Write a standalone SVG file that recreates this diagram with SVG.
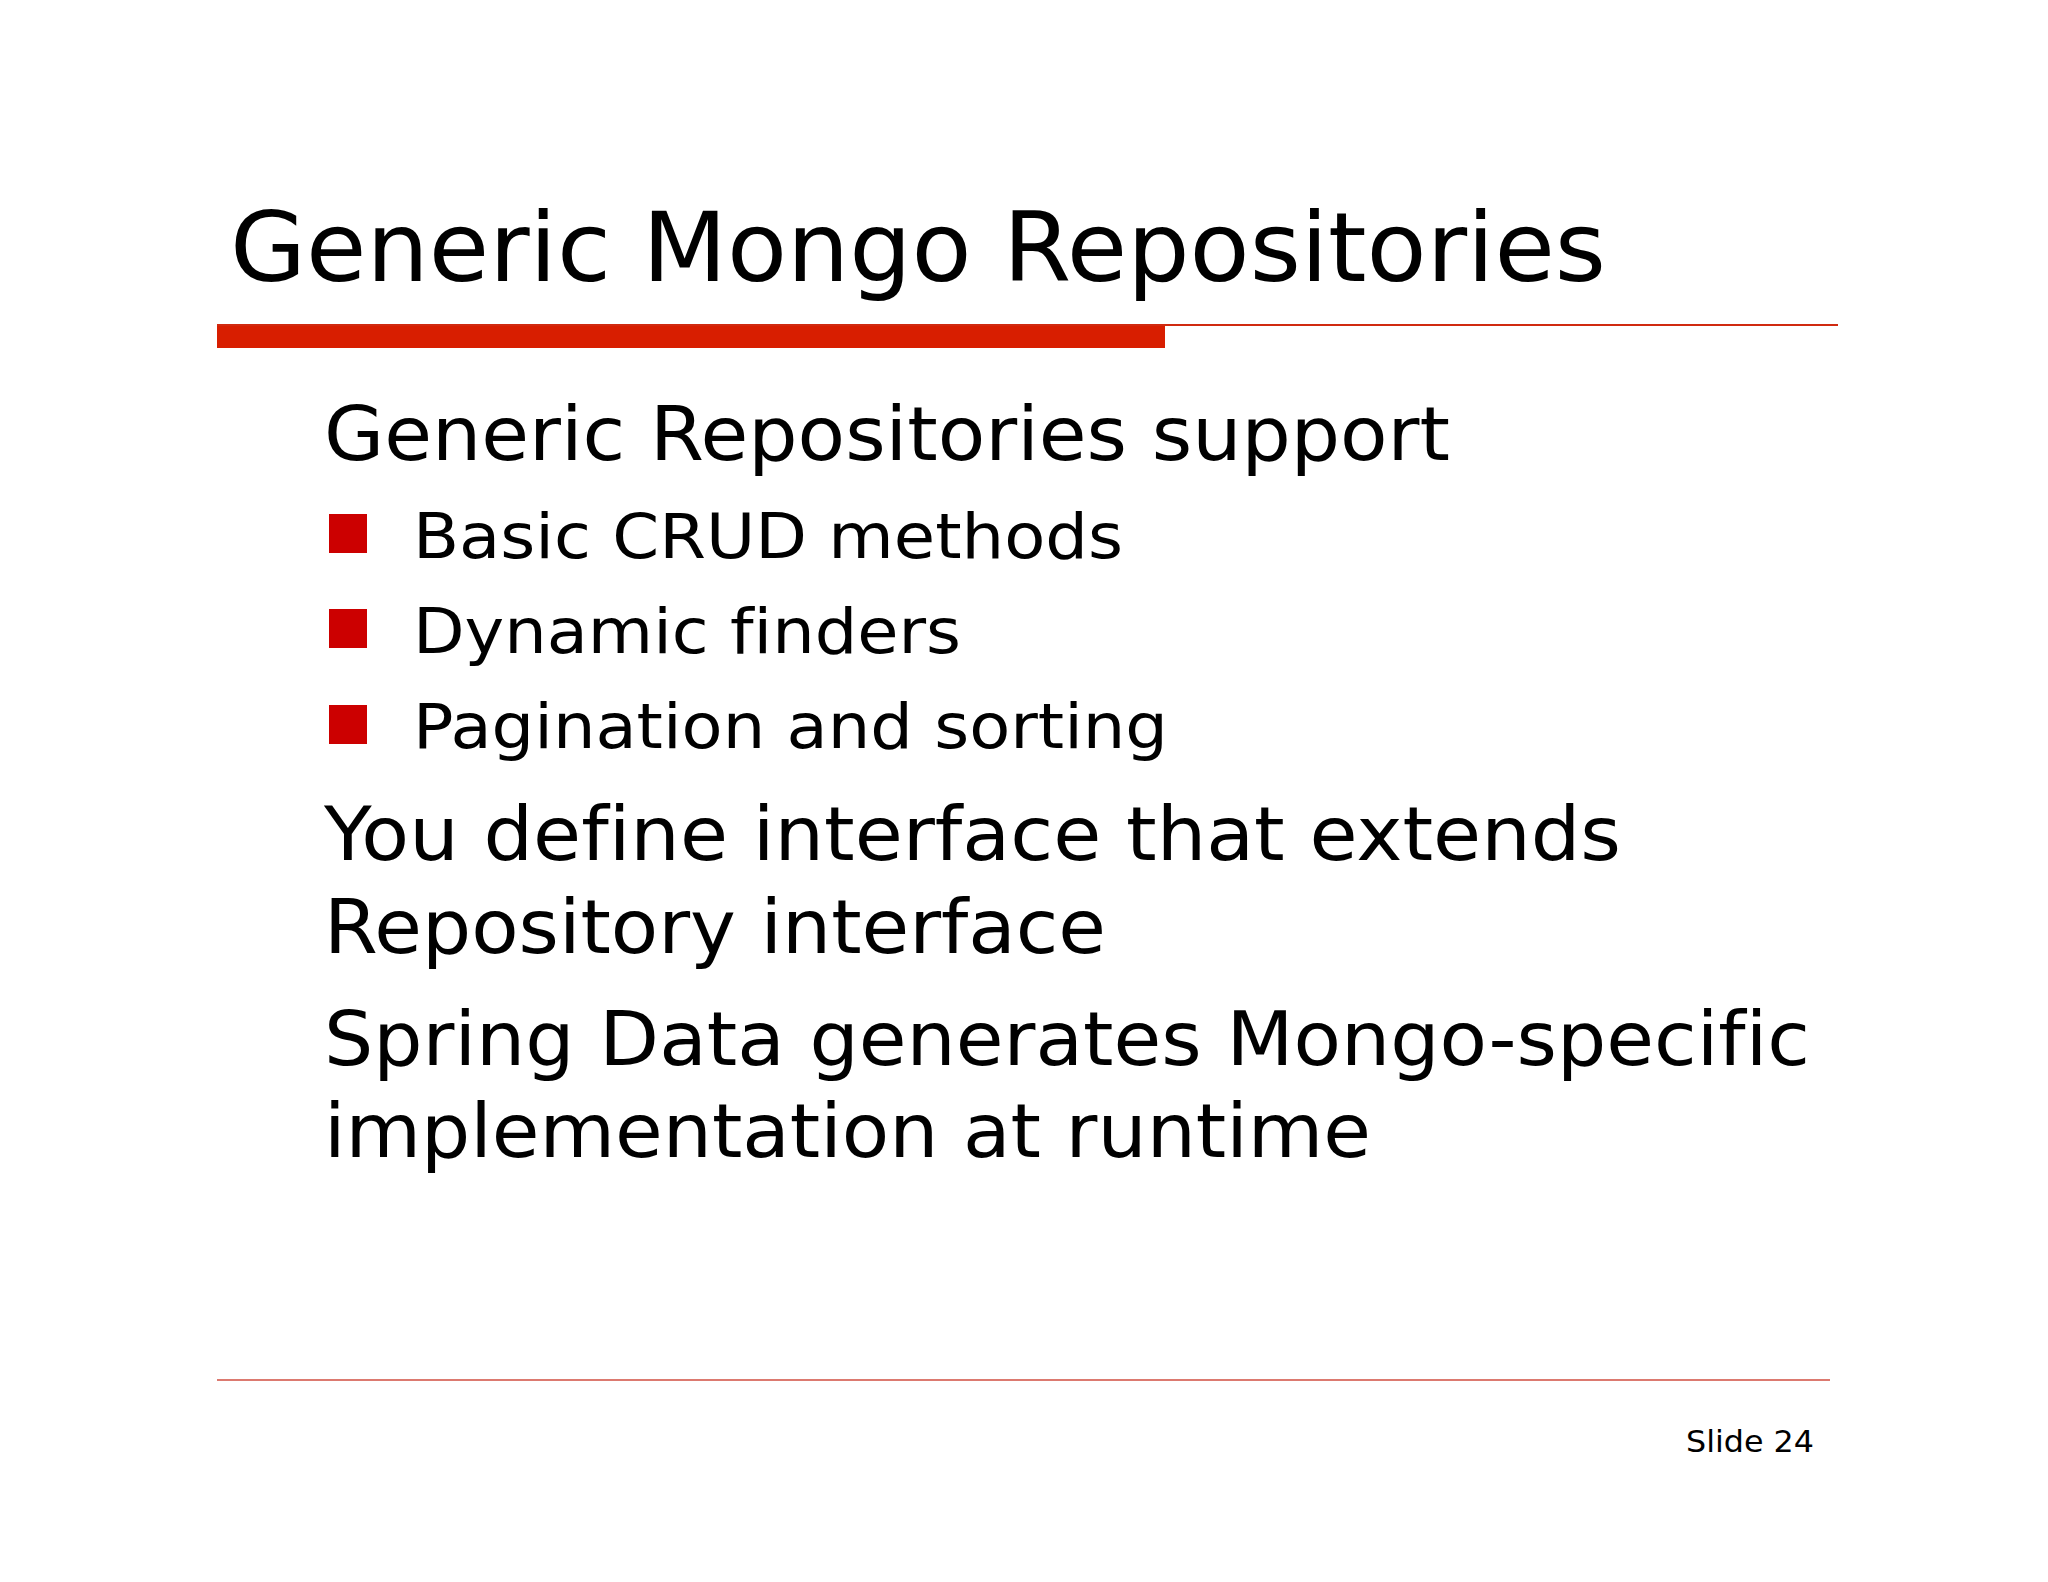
<svg xmlns="http://www.w3.org/2000/svg" width="2048" height="1582" viewBox="0 0 2048 1582">
<style>
text{font-family:"DejaVu Sans","Liberation Sans",sans-serif;fill:#000;font-variant-ligatures:none}
.title{font-size:96px}
.body{font-size:75px}
.bul{font-size:63px}
.foot{font-size:31px}
.sq{fill:#cc0000}
</style>
<rect width="2048" height="1582" fill="#ffffff"/>
<g id="header">
<text class="title" x="230" y="281" textLength="1376" lengthAdjust="spacingAndGlyphs">Generic Mongo Repositories</text>
<rect x="217" y="326" width="948" height="22" fill="#d81e00"/>
<rect x="217" y="324" width="1621" height="2" fill="#d02a10"/>
</g>
<g id="content">
<text class="body" x="324" y="460" textLength="1126" lengthAdjust="spacingAndGlyphs">Generic Repositories support</text>
<rect class="sq" x="329" y="514" width="38" height="39"/>
<text class="bul" x="413" y="558" textLength="710" lengthAdjust="spacingAndGlyphs">Basic CRUD methods</text>
<rect class="sq" x="329" y="609" width="38" height="39"/>
<text class="bul" x="413" y="653" textLength="548" lengthAdjust="spacingAndGlyphs">Dynamic finders</text>
<rect class="sq" x="329" y="705" width="38" height="39"/>
<text class="bul" x="413" y="748" textLength="755" lengthAdjust="spacingAndGlyphs">Pagination and sorting</text>
<text class="body" x="324" y="860" textLength="1297" lengthAdjust="spacingAndGlyphs">You define interface that extends</text>
<text class="body" x="324" y="953" textLength="782" lengthAdjust="spacingAndGlyphs">Repository interface</text>
<text class="body" x="324" y="1065" textLength="1486" lengthAdjust="spacingAndGlyphs">Spring Data generates Mongo-specific</text>
<text class="body" x="324" y="1157" textLength="1047" lengthAdjust="spacingAndGlyphs">implementation at runtime</text>
</g>
<g id="footer">
<rect x="217" y="1379" width="1613" height="2" fill="#dc7a70"/>
<text class="foot" x="1814" y="1452" text-anchor="end" textLength="128" lengthAdjust="spacingAndGlyphs">Slide 24</text>
</g>
</svg>
